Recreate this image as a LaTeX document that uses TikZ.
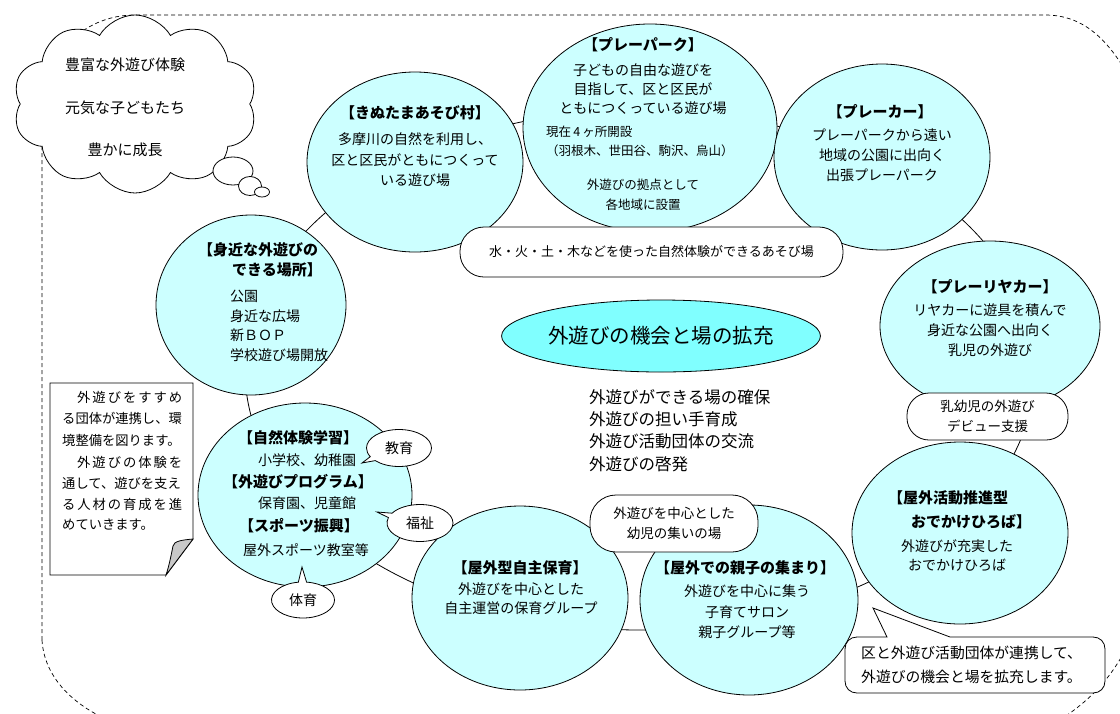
\documentclass[tikz,border=0pt]{standalone}
\usepackage{fontspec}
\setmainfont{Noto Sans CJK JP}
\usetikzlibrary{shapes.geometric,shapes.symbols,shapes.callouts}
\definecolor{circfill}{HTML}{CCFFFF}
\definecolor{centerfill}{HTML}{80FFFF}
\definecolor{foldgray}{HTML}{C8C8C8}
\tikzset{
  bound/.style={line width=0.7pt, dash pattern=on 4pt off 3pt},
  circ/.style={ellipse, draw, fill=circfill, line width=0.8pt, inner sep=0pt},
  pill/.style={rectangle, draw, fill=white, line width=0.8pt, inner sep=0pt},
  callo/.style={ellipse callout, draw, fill=white, line width=0.8pt, inner sep=0pt, font=\fontsize{14}{18}\selectfont},
  ttl/.style={inner sep=0pt, font=\fontsize{15}{20}\selectfont\bfseries},
  bodyt/.style={inner sep=0pt, align=center, font=\fontsize{14}{20.5}\selectfont},
  smallt/.style={inner sep=0pt, align=center, font=\fontsize{12.5}{19}\selectfont},
  notet/.style={inner sep=0pt, anchor=west, font=\fontsize{13.3}{18}\selectfont},
}
\begin{document}
\begin{tikzpicture}[x=1pt,y=-1pt]
\useasboundingbox (0,0) rectangle (1120,713);
\clip (0,0) rectangle (1120,713);
\fill[white] (0,0) rectangle (1120,713);

% dashed outer boundary
\draw[bound] (42,640) -- (42,110) .. controls (42,60) and (80,15) .. (135,15) -- (1045,15) .. controls (1080,15) and (1105,35) .. (1128,75);
\draw[bound] (42,640) .. controls (44,675) and (70,703) .. (108,720);
\draw[bound] (1060,720) .. controls (1090,700) and (1110,680) .. (1128,645);

% ring behind the circles
\node[ellipse, draw, line width=0.8pt, minimum width=790pt, minimum height=520pt, inner sep=0pt] (ring) at (640,370) {};

% circles
\node[circ, minimum width=216pt, minimum height=180pt] (kinu) at (415,162) {};
\node[circ, minimum width=254pt, minimum height=208pt] (park) at (650,128) {};
\node[circ, minimum width=216pt, minimum height=186pt] (car) at (882,157) {};
\node[circ, minimum width=190pt, minimum height=180pt] (mijika) at (251,305) {};
\node[circ, minimum width=220pt, minimum height=170pt] (riya) at (990,326) {};
\node[circ, minimum width=214pt, minimum height=184pt] (shizen) at (305,495) {};
\node[circ, minimum width=216pt, minimum height=184pt] (jishu) at (520,598) {};
\node[circ, minimum width=218pt, minimum height=190pt] (oyako) at (749,600) {};
\node[circ, minimum width=216pt, minimum height=182pt] (odekake) at (960,533) {};

% central ellipse
\node[ellipse, draw, fill=centerfill, line width=0.8pt, minimum width=304pt, minimum height=72pt, inner sep=0pt, font=\fontsize{20.5}{24}\selectfont] (center) at (661,336) {外遊びの機会と場の拡充};

% pills
\node[pill, rounded corners=24pt, minimum width=383pt, minimum height=50pt, font=\fontsize{13}{18}\selectfont] (mizu) at (651.5,252) {水・火・土・木などを使った自然体験ができるあそび場};
\node[pill, rounded corners=22pt, minimum width=161pt, minimum height=47pt, align=center, font=\fontsize{13.5}{20}\selectfont] (debut) at (987.5,416.5) {乳幼児の外遊び\\デビュー支援};
\node[pill, rounded corners=26pt, minimum width=168pt, minimum height=57pt, align=center, font=\fontsize{13.5}{20}\selectfont] (tsudoi) at (674,523.5) {外遊びを中心とした\\幼児の集いの場};

% callouts
\coordinate (kyoikutip) at (362,463);
\coordinate (fukushitip) at (377,512);
\coordinate (taiikutip) at (302,567);
\node[callo, minimum width=65pt, minimum height=37pt, callout absolute pointer=(kyoikutip)] (kyoiku) at (399,448) {教育};
\node[callo, minimum width=66pt, minimum height=37pt, callout absolute pointer=(fukushitip)] (fukushi) at (420,523) {福祉};
\node[callo, minimum width=63pt, minimum height=36pt, callout absolute pointer=(taiikutip)] (taiiku) at (303,600) {体育};

% texts: kinuta
\node[ttl] (kinuT) at (415,113) {【きぬたまあそび村】};
\node[bodyt] (kinuB) at (415,160) {多摩川の自然を利用し、\\区と区民がともにつくって\\いる遊び場};
% play park
\node[ttl] (parkT) at (643,45) {【プレーパーク】};
\node[bodyt, font=\fontsize{14}{19}\selectfont] (parkB) at (643,89) {子どもの自由な遊びを\\目指して、区と区民が\\ともにつくっている遊び場};
\node[smallt, align=left, anchor=west] (parkC) at (546,141.5) {現在\,4\,ヶ所開設\\（羽根木、世田谷、駒沢、烏山）};
\node[smallt, font=\fontsize{12.5}{20}\selectfont] (parkD) at (643,195) {外遊びの拠点として\\各地域に設置};
% play car
\node[ttl] (carT) at (880,112) {【プレーカー】};
\node[bodyt, font=\fontsize{14}{20}\selectfont] (carB) at (882,155) {プレーパークから遠い\\地域の公園に出向く\\出張プレーパーク};
% mijika
\node[ttl, anchor=west] (mijT1) at (198,250) {【身近な外遊びの};
\node[ttl, anchor=west] (mijT2) at (232,270) {できる場所】};
\node[bodyt, align=left, anchor=west, font=\fontsize{14}{19.5}\selectfont] (mijB) at (230,326) {公園\\身近な広場\\新ＢＯＰ\\学校遊び場開放};
% play riyaka
\node[ttl] (riyaT) at (990,287) {【プレーリヤカー】};
\node[bodyt, font=\fontsize{14}{20}\selectfont] (riyaB) at (990,330) {リヤカーに遊具を積んで\\身近な公園へ出向く\\乳児の外遊び};
% shizen
\node[ttl] (shiT1) at (298,438) {【自然体験学習】};
\node[bodyt] (shiB1) at (307,460) {小学校、幼稚園};
\node[ttl] (shiT2) at (298,482) {【外遊びプログラム】};
\node[bodyt] (shiB2) at (307,503) {保育園、児童館};
\node[ttl] (shiT3) at (299,526) {【スポーツ振興】};
\node[bodyt] (shiB3) at (306,550) {屋外スポーツ教室等};
% jishu
\node[ttl] (jisT) at (520,568) {【屋外型自主保育】};
\node[bodyt, font=\fontsize{14}{19}\selectfont] (jisB) at (521,599) {外遊びを中心とした\\自主運営の保育グループ};
% oyako
\node[ttl] (oyaT) at (745,568) {【屋外での親子の集まり】};
\node[bodyt] (oyaB) at (747,612) {外遊びを中心に集う\\子育てサロン\\親子グループ等};
% odekake
\node[ttl, anchor=west] (odeT1) at (888,498) {【屋外活動推進型};
\node[ttl, anchor=west] (odeT2) at (911,522) {おでかけひろば】};
\node[bodyt, font=\fontsize{14}{19}\selectfont] (odeB) at (957,556) {外遊びが充実した\\おでかけひろば};

% centre list
\node[inner sep=0pt, anchor=west, align=left, font=\fontsize{16.5}{22.3}\selectfont] (list) at (589,430.5) {外遊びができる場の確保\\外遊びの担い手育成\\外遊び活動団体の交流\\外遊びの啓発};

% cloud
\node[cloud, draw, fill=white, line width=0.8pt, cloud puffs=10, cloud puff arc=120, aspect=1.4, minimum width=244pt, minimum height=178pt, inner sep=0pt] (cloud) at (135,104) {};
\node[ellipse, draw, fill=white, line width=0.8pt, minimum width=40pt, minimum height=28pt, inner sep=0pt] (th1) at (233,171) {};
\node[ellipse, draw, fill=white, line width=0.8pt, minimum width=23pt, minimum height=19pt, inner sep=0pt] (th2) at (250,186) {};
\node[ellipse, draw, fill=white, line width=0.8pt, minimum width=15pt, minimum height=10pt, inner sep=0pt] (th3) at (262,192) {};
\node[inner sep=0pt, align=center, font=\fontsize{15}{42.5}\selectfont] (cloudT) at (125,107.5) {豊富な外遊び体験\\元気な子どもたち\\豊かに成長};

% note paper
\draw[line width=0.8pt, fill=white] (50,383) -- (193,383) -- (193,539) -- (166,575) -- (50,575) -- cycle;
\draw[line width=0.8pt, fill=foldgray] (193,539) .. controls (182,540) and (174,541) .. (173,546) .. controls (171,556) and (169,566) .. (166,575) -- cycle;
\node[notet] (n1) at (62,397) {\makebox[120pt][s]{\hspace*{15pt}外\hfill 遊\hfill び\hfill を\hfill す\hfill す\hfill め}};
\node[notet] (n2) at (62,418) {る団体が連携し、環};
\node[notet] (n3) at (62,440) {境整備を図ります。};
\node[notet] (n4) at (62,462) {\makebox[120pt][s]{\hspace*{15pt}外\hfill 遊\hfill び\hfill の\hfill 体\hfill 験\hfill を}};
\node[notet] (n5) at (62,483) {通して、遊びを支え};
\node[notet] (n6) at (62,504) {\makebox[120pt][s]{る\hfill 人\hfill 材\hfill の\hfill 育\hfill 成\hfill を\hfill 進}};
\node[notet] (n7) at (62,525) {めていきます。};

% bottom right speech bubble
\draw[line width=0.8pt, fill=white] (887,637) -- (873,608) -- (950,637) -- (1093,637) .. controls (1100,637) and (1105,642) .. (1105,649) -- (1105,681) .. controls (1105,688) and (1100,693) .. (1093,693) -- (857,693) .. controls (850,693) and (845,688) .. (845,681) -- (845,649) .. controls (845,642) and (850,637) .. (857,637) -- cycle;
\node[inner sep=0pt, anchor=west, align=left, font=\fontsize{14.8}{24}\selectfont] (bubT) at (861,665) {区と外遊び活動団体が連携して、\\外遊びの機会と場を拡充します。};
\end{tikzpicture}
\end{document}
